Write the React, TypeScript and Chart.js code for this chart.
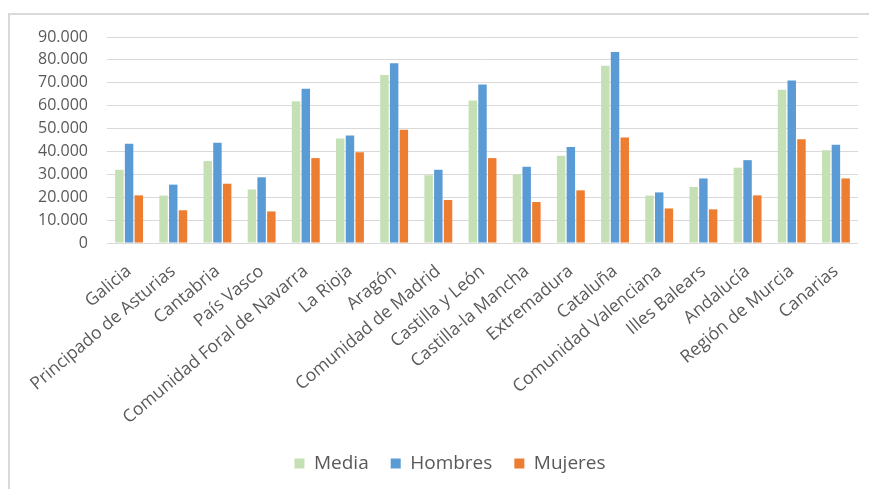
import React, { useEffect, useRef } from "react";
import { Chart, registerables } from "chart.js";

Chart.register(...registerables);

const categories = [
  "Galicia",
  "Principado de Asturias",
  "Cantabria",
  "País Vasco",
  "Comunidad Foral de Navarra",
  "La Rioja",
  "Aragón",
  "Comunidad de Madrid",
  "Castilla y León",
  "Castilla-la Mancha",
  "Extremadura",
  "Cataluña",
  "Comunidad Valenciana",
  "Illes Balears",
  "Andalucía",
  "Región de Murcia",
  "Canarias",
];

const media = [32000, 20700, 35800, 23400, 61900, 45700, 73400, 29600, 62300, 30100, 38100, 77400, 20700, 24500, 32900, 66900, 40500];
const hombres = [43400, 25500, 43800, 28700, 67400, 47000, 78500, 32000, 69300, 33300, 41900, 83500, 22100, 28200, 36200, 71000, 42900];
const mujeres = [20800, 14300, 25900, 13800, 37100, 39600, 49500, 18800, 37100, 17900, 23000, 46100, 15100, 14700, 20800, 45300, 28200];

const seriesNames = ["Media", "Hombres", "Mujeres"];
const yMax = 90000;
const yStep = 10000;

const fmt = (v: number) =>
  Math.round(v)
    .toString()
    .replace(/\B(?=(\d{3})+(?!\d))/g, ".");

const legendShift = {
  id: "legendShift",
  afterLayout(chart: any) {
    const l = chart.legend;
    if (l) {
      l.left += 16;
      l.right += 16;
    }
  },
};

export default function App() {
  const ref = useRef<HTMLCanvasElement | null>(null);

  useEffect(() => {
    if (!ref.current) return;
    const textColor = "#595959";
    const family = "'Open Sans', sans-serif";
    const chart = new Chart(ref.current, {
      type: "bar",
      data: {
        labels: categories,
        datasets: [
          { label: seriesNames[0], data: media, backgroundColor: "#C5E0B4" },
          { label: seriesNames[1], data: hombres, backgroundColor: "#5B9BD5" },
          { label: seriesNames[2], data: mujeres, backgroundColor: "#ED7D31" },
        ],
      },
      plugins: [legendShift],
      options: {
        responsive: false,
        animation: false,
        datasets: {
          bar: { categoryPercentage: 0.66, barPercentage: 0.87 },
        },
        layout: { padding: { top: 22, right: 11, left: 0, bottom: 6 } },
        plugins: {
          legend: {
            position: "bottom",
            labels: {
              color: textColor,
              font: { family, size: 19 },
              boxWidth: 10,
              boxHeight: 10,
              padding: 22,
            },
          },
          tooltip: { enabled: false },
        },
        scales: {
          x: {
            grid: { display: false },
            border: { display: false },
            ticks: {
              color: textColor,
              font: { family, size: 17.5 },
              autoSkip: false,
              minRotation: 40,
              maxRotation: 40,
              padding: 10,
            },
            afterFit: (s: any) => {
              s.height = 189;
            },
          },
          y: {
            min: 0,
            max: yMax,
            border: { display: false },
            grid: {
              color: "#D9D9D9",
              lineWidth: 1,
              drawTicks: true,
              tickLength: 17,
              tickColor: "rgba(0,0,0,0)",
            },
            ticks: {
              stepSize: yStep,
              autoSkip: false,
              color: textColor,
              font: { family, size: 16 },
              padding: 2,
              callback: (v: any) => fmt(Number(v)),
            },
            afterFit: (s: any) => {
              s.width = 97;
            },
          },
        },
      },
    });
    return () => chart.destroy();
  }, []);

  return (
    <div
      style={{
        position: "fixed",
        left: 8,
        top: 13,
        width: 861,
        height: 476,
        boxSizing: "border-box",
        borderTop: "2px solid #D9D9D9",
        borderLeft: "2px solid #D9D9D9",
        background: "#fff",
      }}
    >
      <canvas ref={ref} width={859} height={474} style={{ display: "block" }} />
    </div>
  );
}
